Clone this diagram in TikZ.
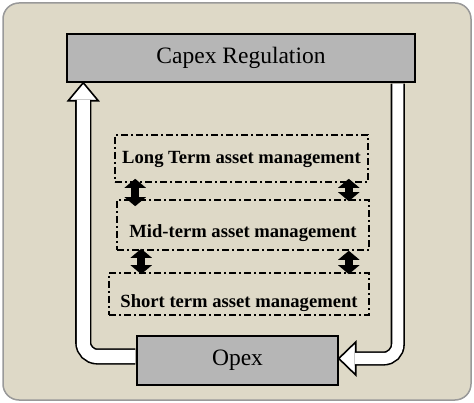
\documentclass[tikz,border=0pt]{standalone}
\usepackage{fontspec}
\setmainfont{Liberation Serif}
\usetikzlibrary{arrows.meta,calc}
\definecolor{panel}{RGB}{222,217,199}
\definecolor{boxgray}{RGB}{182,182,182}

\begin{document}
\begin{tikzpicture}[x=1pt,y=-1pt,
    block/.style={draw,line width=1.5pt,fill=boxgray,font=\fontsize{23.5}{27}\selectfont},
    level/.style={draw,line width=1.6pt,dash pattern=on 7pt off 3pt on 2pt off 3pt,inner sep=0pt,font=\fontsize{18.6}{22}\selectfont\bfseries},
    shaft/.style={draw,line width=1.6pt,double=white,double distance=13pt,rounded corners=14pt},
    head/.style={draw,line width=1.6pt,fill=white,line join=miter},
    updown/.style={line width=8pt,{Triangle[width=21pt,length=9pt]}-{Triangle[width=21pt,length=9pt]}}]
    \useasboundingbox (0,0) rectangle (474,403);
    \draw[gray!80,line width=1.5pt,fill=panel,rounded corners=16pt] (3,3) rectangle (471,400);

    \node[block,minimum width=348pt,minimum height=48pt] (capex) at (241,58) {Capex Regulation};
    \node[block,minimum width=201pt,minimum height=49pt] (opex) at (237.5,360.5) {Opex};

    \node[level,minimum width=253pt,text height=28.5pt,text depth=18.5pt] (long) at (241.5,158.5) {Long Term asset management};
    \node[level,minimum width=252pt,text height=38pt,text depth=12pt] (mid) at (243,225) {Mid-term asset management};
    \node[level,minimum width=260pt,text height=34.5pt,text depth=7.5pt] (short) at (239,294) {Short term asset management};

    % links between the levels
    \draw[updown,shorten <=-4pt,shorten >=-7pt] ([xshift=21pt]long.south west) -- ([xshift=21pt]long.south west |- mid.north);
    \draw[updown,shorten <=-4pt,shorten >=-2pt] ([xshift=-20pt]long.south east) -- ([xshift=-20pt]long.south east |- mid.north);
    \draw[updown,shorten <=-2pt,shorten >=-2pt] ([xshift=25pt]mid.south west) -- ([xshift=25pt]mid.south west |- short.north);
    \draw[updown,shorten <=0pt,shorten >=-2pt] ([xshift=-21pt]mid.south east) -- ([xshift=-21pt]mid.south east |- short.north);

    % feedback loop
    \coordinate (lefttip) at ([xshift=17pt]capex.south west);
    \coordinate (righttop) at ([xshift=-18pt]capex.south east);
    \coordinate (righttip) at ([yshift=2pt]opex.east);
    \draw[head] (lefttip) -- ++(15,18) -- ++(-30,0) -- cycle;
    \draw[shaft] ($(opex.west)+(-0.8,-4)$) -| ($(lefttip)+(0,17.2)$);
    \draw[head] (righttip) -- ++(17,-16.5) -- ++(0,33) -- cycle;
    \draw[shaft,double distance=11pt] ($(righttop)+(0,0.8)$) |- ($(righttip)+(16.2,0)$);
\end{tikzpicture}
\end{document}
